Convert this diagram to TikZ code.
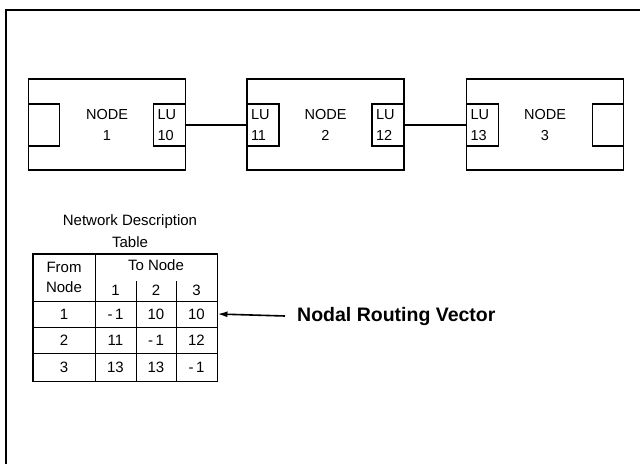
\documentclass[tikz,border=0pt]{standalone}
\usepackage{fontspec}
\setmainfont{Liberation Sans}
\usetikzlibrary{arrows.meta}

\begin{document}
\begin{tikzpicture}[x=1pt, y=-1pt,
    every node/.style={font=\fontsize{14.5}{21}\selectfont},
    nodebox/.style={draw, line width=1.2pt, minimum width=157pt, minimum height=91pt, inner sep=0pt, align=center},
    lubox/.style={draw, line width=1.2pt, minimum width=32pt, minimum height=42pt, inner sep=0pt, text width=24pt, align=left},
    portbox/.style={draw, line width=1.2pt, minimum width=31pt, minimum height=42pt, inner sep=0pt},
    link/.style={line width=1.2pt},
    cell/.style={draw, line width=0.9pt, minimum height=26pt, inner sep=0pt, font=\fontsize{15}{20}\selectfont}
  ]
    \useasboundingbox (0,0) rectangle (640,464);
    \draw[line width=1.8pt] (640,10) -- (6,10) -- (6,464);

    \node[nodebox] (n1) at (107,124.5) {NODE\\\smash{1}};
    \node[nodebox] (n2) at (325.5,124.5) {NODE\\\smash{2}};
    \node[nodebox] (n3) at (545,124.5) {NODE\\\smash{3}};

    \node[portbox, anchor=north west] (p1) at ([yshift=-25pt]n1.north west) {};
    \node[lubox, anchor=north east] (lu10) at ([yshift=-25pt]n1.north east) {LU\\10};
    \node[lubox, anchor=north west] (lu11) at ([yshift=-25pt]n2.north west) {LU\\11};
    \node[lubox, anchor=north east] (lu12) at ([yshift=-25pt]n2.north east) {LU\\12};
    \node[lubox, anchor=north west] (lu13) at ([yshift=-25pt]n3.north west) {LU\\13};
    \node[portbox, anchor=north east] (p3) at ([yshift=-25pt]n3.north east) {};

    \draw[link] (lu10.east) -- (lu11.west);
    \draw[link] (lu12.east) -- (lu13.west);

    \node[align=center, font=\fontsize{15}{22}\selectfont] (ndt) at (130,231) {Network Description\\Table};

    \node[cell, minimum width=62pt, minimum height=47pt, align=center] (from) at (64,277.5) {From\\Node};
    \node[cell, minimum width=122pt, minimum height=47pt] (to) at (156,277.5) {};
    \node[font=\fontsize{15}{20}\selectfont] (tonode) at (156,265) {To Node};
    \node[font=\fontsize{15}{20}\selectfont] (k1) at (115.5,290) {1};
    \node[font=\fontsize{15}{20}\selectfont] (k2) at (156,290) {2};
    \node[font=\fontsize{15}{20}\selectfont] (k3) at (196.5,290) {3};
    \draw[line width=0.5pt] (136,281) -- (136,301);
    \draw[line width=0.7pt] (176,281) -- (176,301);

    \node[cell, minimum width=62pt] (r1c0) at (64,314) {1};
    \node[cell, minimum width=41pt] (r1c1) at (115.5,314) {-\,1};
    \node[cell, minimum width=40pt] (r1c2) at (156,314) {10};
    \node[cell, minimum width=41pt] (r1c3) at (196.5,314) {10};

    \node[cell, minimum width=62pt] (r2c0) at (64,340) {2};
    \node[cell, minimum width=41pt] (r2c1) at (115.5,340) {11};
    \node[cell, minimum width=40pt] (r2c2) at (156,340) {-\,1};
    \node[cell, minimum width=41pt] (r2c3) at (196.5,340) {12};

    \node[cell, minimum width=62pt, minimum height=28pt] (r3c0) at (64,367) {3};
    \node[cell, minimum width=41pt, minimum height=28pt] (r3c1) at (115.5,367) {13};
    \node[cell, minimum width=40pt, minimum height=28pt] (r3c2) at (156,367) {13};
    \node[cell, minimum width=41pt, minimum height=28pt] (r3c3) at (196.5,367) {-\,1};

    \draw[line width=1.4pt] (from.north west) rectangle (r3c3.south east);
    \draw[line width=1.4pt] (from.north east) -- (r3c0.south east);

    \node[font=\bfseries\fontsize{19.5}{22}\selectfont, anchor=west, inner sep=3pt] (nrv) at (294,316) {Nodal Routing Vector};
    \draw[line width=1.6pt, -{Latex[length=10pt, width=6pt]}] ([xshift=-9pt]nrv.west) -- (r1c3.east);
\end{tikzpicture}
\end{document}
